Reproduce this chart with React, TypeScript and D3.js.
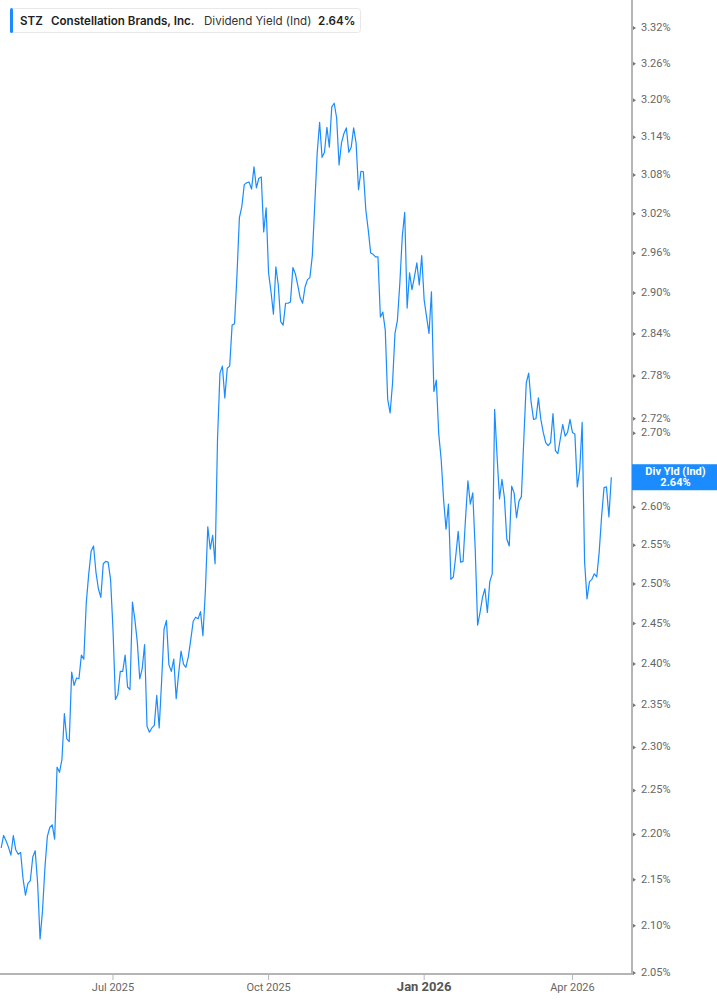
import React from 'react';
import * as d3 from 'd3';

// Daily indicated dividend yield (%), one value per trading day
const yieldValues: number[] = [
  2.185, 2.199, 2.193, 2.186, 2.177, 2.199, 2.183, 2.178, 2.180, 2.151,
  2.133, 2.146, 2.149, 2.175, 2.182, 2.146, 2.086, 2.116, 2.163, 2.198,
  2.208, 2.211, 2.195, 2.277, 2.271, 2.286, 2.340, 2.310, 2.307, 2.390,
  2.374, 2.383, 2.382, 2.411, 2.406, 2.476, 2.512, 2.542, 2.549, 2.515,
  2.494, 2.483, 2.526, 2.529, 2.528, 2.506, 2.443, 2.357, 2.363, 2.391,
  2.391, 2.411, 2.372, 2.369, 2.477, 2.455, 2.427, 2.382, 2.394, 2.424,
  2.325, 2.318, 2.323, 2.326, 2.362, 2.323, 2.379, 2.443, 2.454, 2.399,
  2.391, 2.406, 2.358, 2.388, 2.416, 2.400, 2.396, 2.409, 2.430, 2.453,
  2.458, 2.456, 2.465, 2.435, 2.491, 2.574, 2.545, 2.563, 2.526, 2.692,
  2.784, 2.794, 2.749, 2.791, 2.794, 2.853, 2.855, 2.927, 3.014, 3.031,
  3.065, 3.068, 3.069, 3.058, 3.093, 3.060, 3.075, 3.077, 2.992, 3.029,
  2.930, 2.902, 2.869, 2.939, 2.912, 2.858, 2.853, 2.885, 2.885, 2.887,
  2.938, 2.929, 2.912, 2.893, 2.885, 2.909, 2.920, 2.923, 2.956, 3.034,
  3.115, 3.164, 3.108, 3.116, 3.156, 3.124, 3.189, 3.195, 3.171, 3.096,
  3.131, 3.146, 3.155, 3.116, 3.124, 3.155, 3.131, 3.057, 3.086, 3.085,
  3.026, 2.995, 2.960, 2.958, 2.954, 2.954, 2.865, 2.872, 2.846, 2.747,
  2.728, 2.770, 2.841, 2.860, 2.915, 2.985, 3.022, 2.878, 2.930, 2.905,
  2.924, 2.945, 2.912, 2.956, 2.890, 2.865, 2.841, 2.902, 2.758, 2.774,
  2.699, 2.664, 2.610, 2.571, 2.604, 2.506, 2.509, 2.536, 2.568, 2.528,
  2.529, 2.584, 2.635, 2.604, 2.619, 2.545, 2.448, 2.464, 2.483, 2.494,
  2.464, 2.503, 2.513, 2.733, 2.668, 2.611, 2.637, 2.613, 2.558, 2.549,
  2.628, 2.619, 2.586, 2.608, 2.614, 2.692, 2.770, 2.784, 2.743, 2.719,
  2.720, 2.749, 2.719, 2.701, 2.687, 2.683, 2.687, 2.727, 2.676, 2.672,
  2.692, 2.712, 2.696, 2.701, 2.719, 2.701, 2.699, 2.627, 2.650, 2.715,
  2.528, 2.481, 2.503, 2.506, 2.513, 2.509, 2.541, 2.588, 2.626, 2.627,
  2.587, 2.640,
];

const startDate = '2025-04-24';
const marketHolidays = [
  '2025-05-26', '2025-06-19', '2025-07-04', '2025-09-01', '2025-11-27',
  '2025-12-25', '2026-01-01', '2026-01-19', '2026-02-16', '2026-04-03',
];

const yTicks = [3.32, 3.26, 3.2, 3.14, 3.08, 3.02, 2.96, 2.9, 2.84, 2.78, 2.72, 2.7, 2.65, 2.6, 2.55, 2.5, 2.45, 2.4, 2.35, 2.3, 2.25, 2.2, 2.15, 2.1, 2.05];
const xTickMonths = ['2025-07', '2025-10', '2026-01', '2026-04'];
const xTickLabels = ['Jul 2025', 'Oct 2025', 'Jan 2026', 'Apr 2026'];

const ticker = 'STZ';
const company = 'Constellation Brands, Inc.';
const metric = 'Dividend Yield (Ind)';
const badgeLabel = 'Div Yld (Ind)';

const W = 717;
const H = 1005;
const plotRight = 632;
const plotBottom = 974;
const lineBlue = '#1a8cff';
const axisGrey = '#b5b5b5';
const labelGrey = '#666';

// trading days (weekdays minus market holidays)
const fmt = d3.timeFormat('%Y-%m-%d');
const tradingDays: Date[] = [];
{
  let d = d3.timeParse('%Y-%m-%d')(startDate) as Date;
  while (tradingDays.length < yieldValues.length) {
    const wd = d.getDay();
    if (wd !== 0 && wd !== 6 && !marketHolidays.includes(fmt(d))) tradingDays.push(d);
    d = d3.timeDay.offset(d, 1);
  }
}

const App: React.FC = () => {
  const x = d3.scaleLinear().domain([-0.48, 259.5]).range([0, plotRight]);
  const y = d3.scaleLog().domain([2.05, 3.32]).range([973, 28]);

  const linePath = d3.line<number>()
    .x((_, i) => x(i))
    .y(d => y(d))(yieldValues) || '';

  const monthFmt = d3.timeFormat('%Y-%m');
  const xTicks = xTickMonths.map((m, k) => {
    const idx = tradingDays.findIndex(d => monthFmt(d) === m);
    return { idx, label: xTickLabels[k], bold: m.endsWith('-01') };
  });

  const last = yieldValues[yieldValues.length - 1];
  const lastY = y(last);
  const badgeHalf = 13;

  return (
    <svg width={W} height={H} style={{ position: 'absolute', left: 0, top: 0, background: '#fff' }}>
      {/* series */}
      <path d={linePath} fill="none" stroke={lineBlue} strokeWidth={1.2} strokeLinejoin="round" />

      {/* bottom axis */}
      <line x1={0} x2={plotRight} y1={plotBottom} y2={plotBottom} stroke={axisGrey} strokeWidth={2} />
      {xTicks.map(t => (
        <g key={t.label} transform={`translate(${x(t.idx)},${plotBottom})`}>
          <line y1={1} y2={6} stroke={axisGrey} strokeWidth={1} />
          <text
            y={14}
            textAnchor="middle"
            dominantBaseline="middle"
            fontFamily="Roboto, sans-serif"
            fontSize={t.bold ? 13 : 11}
            fontWeight={t.bold ? 700 : 400}
            fill={t.bold ? '#555' : labelGrey}
          >
            {t.label}
          </text>
        </g>
      ))}

      {/* right axis */}
      <line x1={plotRight} x2={plotRight} y1={0} y2={plotBottom + 1} stroke={axisGrey} strokeWidth={2} />
      {yTicks.map(v => {
        const hidden = Math.abs(y(v) - lastY) < badgeHalf + 4;
        return (
          <g key={v} transform={`translate(${plotRight},${y(v)})`}>
            <path d="M1,-2 L4,0 L1,2 Z" fill="#777" />
            {!hidden && (
              <text
                x={9}
                dominantBaseline="middle"
                fontFamily="Roboto, sans-serif"
                fontSize={11}
                fill={labelGrey}
              >
                {v.toFixed(2)}%
              </text>
            )}
          </g>
        );
      })}

      {/* last value badge */}
      <g transform={`translate(${plotRight},${lastY})`}>
        <rect x={0} y={-badgeHalf} width={W - plotRight} height={badgeHalf * 2} fill={lineBlue} />
        <text x={(W - plotRight) / 2 + 1} y={-5} textAnchor="middle" dominantBaseline="middle"
          fontFamily="Roboto, sans-serif" fontSize={11} fontWeight={700} fill="#fff">
          {badgeLabel}
        </text>
        <text x={(W - plotRight) / 2 + 1} y={6} textAnchor="middle" dominantBaseline="middle"
          fontFamily="Roboto, sans-serif" fontSize={11} fontWeight={700} fill="#fff">
          {last.toFixed(2)}%
        </text>
      </g>

      {/* legend header */}
      <g fontFamily="Inter, sans-serif" fontSize={11.6} fill="#222">
        <rect x={10.5} y={8.5} width={350} height={24} rx={3} fill="#fff" stroke="#e8e8e8" />
        <rect x={10} y={8} width={3} height={25} rx={1.5} fill={lineBlue} />
        <text x={20} y={25} fontWeight={600}>{ticker}</text>
        <text x={51} y={25} fontWeight={600}>{company}</text>
        <text x={204} y={25} fontWeight={400} fill="#333">{metric}</text>
        <text x={318} y={25} fontWeight={600}>{last.toFixed(2)}%</text>
      </g>
    </svg>
  );
};

export default App;
